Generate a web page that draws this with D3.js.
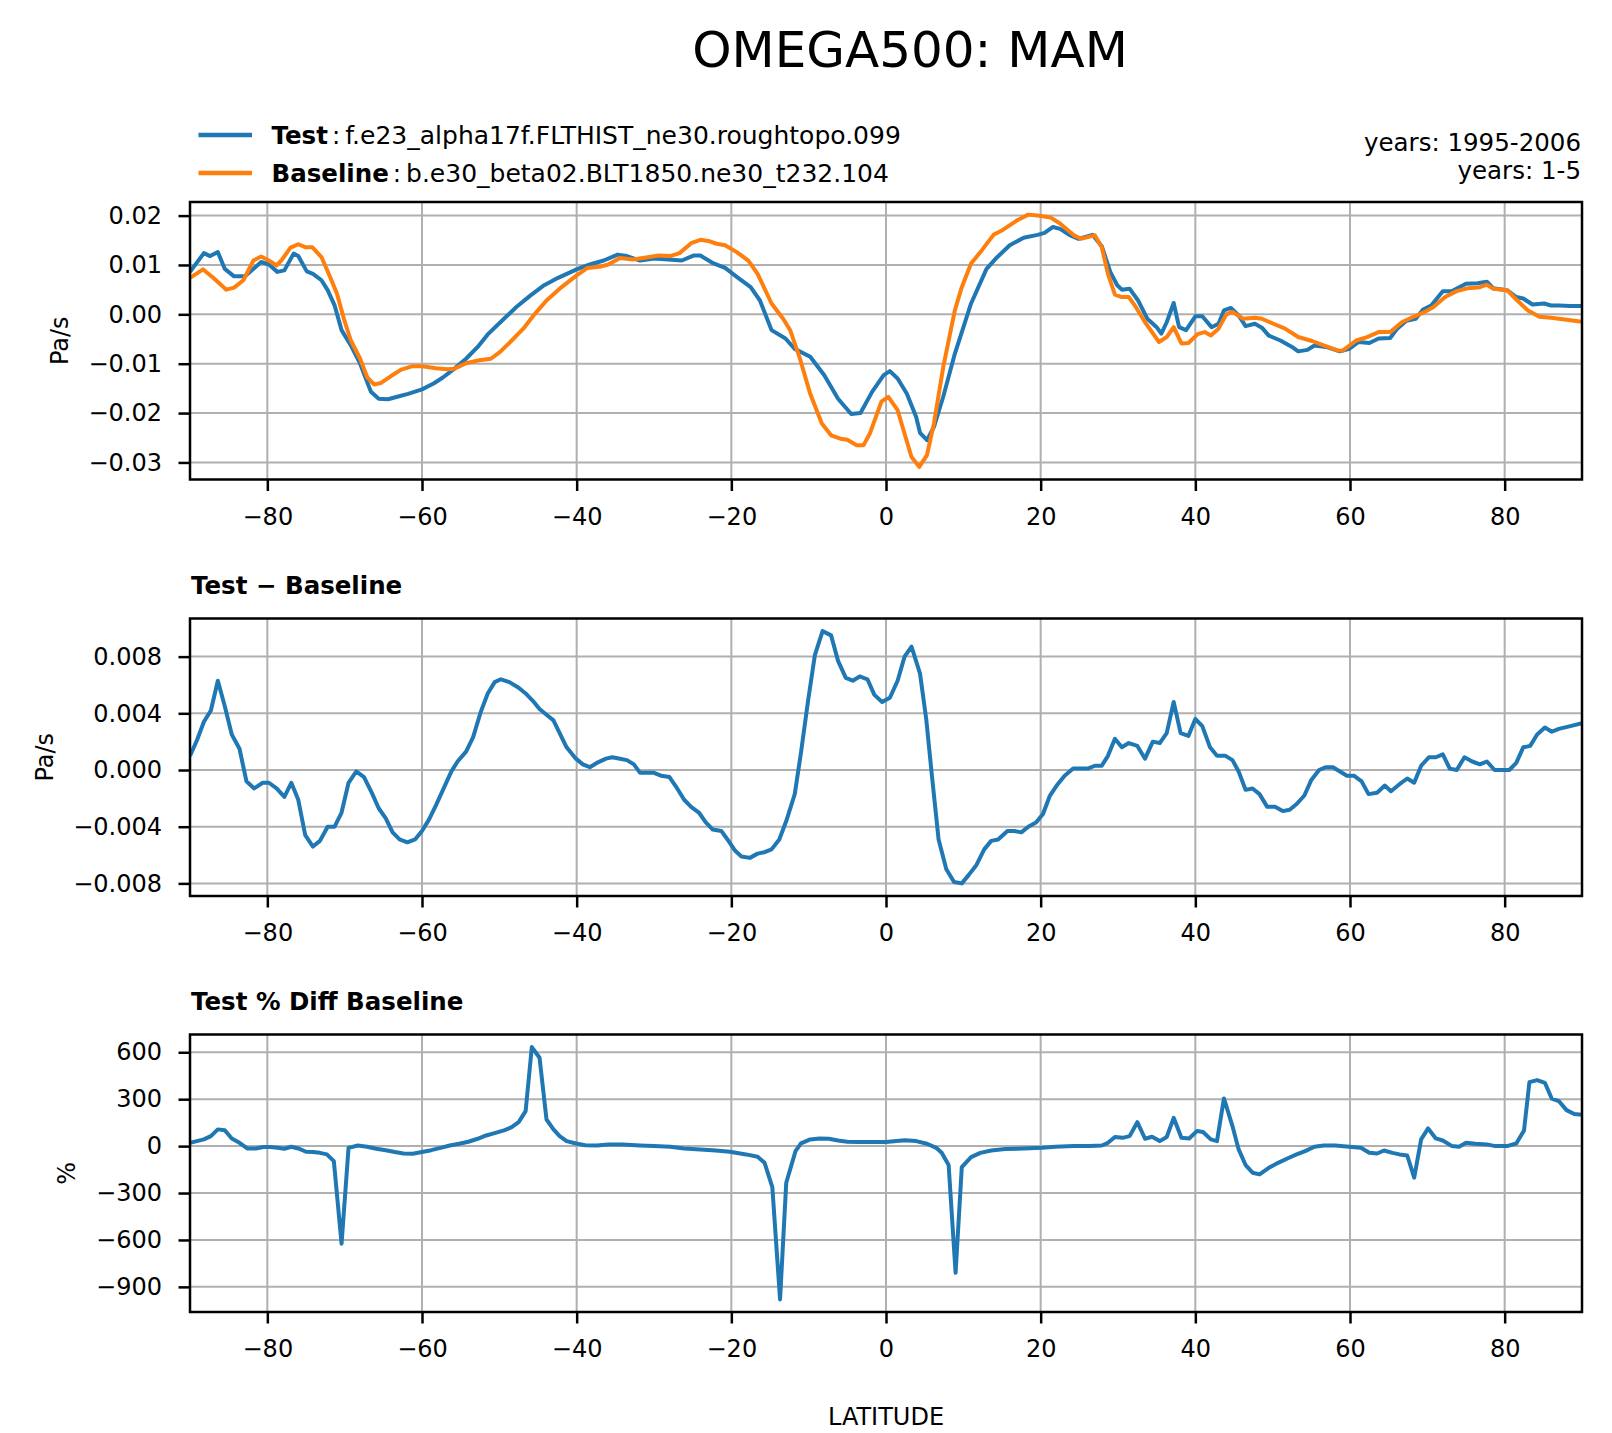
<!DOCTYPE html>
<html>
<head>
<meta charset="utf-8">
<script src="https://cdn.jsdelivr.net/npm/d3@7"></script>
<style>
  body { margin: 0; background: #fff; }
  svg { display: block; font-family: "DejaVu Sans", sans-serif; }
</style>
</head>
<body>
<svg id="chart" width="1612" height="1433"></svg>
<script>
// OMEGA500 zonal mean, MAM: test vs baseline, difference, percent difference

const latTicks = [-80, -60, -40, -20, 0, 20, 40, 60, 80];
const meanTicks = [0.02, 0.01, 0.00, -0.01, -0.02, -0.03];
const diffTicks = [0.008, 0.004, 0.000, -0.004, -0.008];
const pctTicks = [600, 300, 0, -300, -600, -900];

// Test (blue) zonal mean, Pa/s
const testLat = [-90, -88.2, -87.4, -86.4, -85.5, -84.3, -82.9, -80.8, -79.8, -78.7, -77.8, -76.6, -76.0, -74.9, -74.1,
  -73.0, -72.2, -71.3, -70.4, -69.2, -68.0, -66.6, -65.6, -64.4, -63.2, -61.8, -60.0, -58.5, -57.3, -55.8, -54.3,
  -52.8, -51.4, -49.6, -47.8, -46.0, -44.2, -42.4, -40.0, -38.3, -36.5, -34.7, -33.5, -31.8, -30.0, -28.2, -26.4,
  -24.9, -24.0, -22.3, -20.8, -19.3, -17.5, -16.3, -14.8, -13.0, -11.8, -9.8, -8.0, -6.2, -4.5, -3.3, -1.8, -0.3,
  0.5, 1.5, 2.7, 3.9, 4.4, 5.3, 6.2, 7.4, 8.9, 11.0, 13.0, 14.2, 16.0, 17.8, 19.6, 20.5, 21.6, 22.5, 23.7, 24.9,
  26.7, 27.9, 29.0, 29.9, 30.5, 31.5, 32.6, 33.8, 35.0, 35.6, 36.3, 37.2, 37.9, 38.8, 40.0, 40.9, 42.1, 43.0, 43.7,
  44.6, 45.6, 46.5, 47.7, 48.6, 49.5, 51.0, 52.5, 53.3, 54.5, 55.4, 56.9, 58.7, 59.9, 61.1, 62.5, 63.7, 65.2, 66.1,
  67.3, 68.5, 69.4, 70.5, 72.0, 73.2, 75.0, 76.5, 77.7, 78.5, 80.3, 81.5, 82.4, 83.6, 85.1, 86.0, 87.0, 88.5, 90.0];
const testVal = [0.0086, 0.0124, 0.0118, 0.0126, 0.0092, 0.0077, 0.0077, 0.0106, 0.0101, 0.0086, 0.0089, 0.0123, 0.0118, 0.0087, 0.0082,
  0.0069, 0.0049, 0.0018, -0.0032, -0.0063, -0.0100, -0.0157, -0.0171, -0.0172, -0.0167, -0.0161, -0.0152, -0.0140, -0.0128, -0.0110, -0.0090,
  -0.0066, -0.0039, -0.0012, 0.0015, 0.0038, 0.0059, 0.0074, 0.0091, 0.0101, 0.0109, 0.0121, 0.0118, 0.0109, 0.0113, 0.0111, 0.0109,
  0.0119, 0.0119, 0.0103, 0.0094, 0.0076, 0.0055, 0.0028, -0.0032, -0.0049, -0.0070, -0.0086, -0.0123, -0.0171, -0.0202, -0.0200, -0.0157, -0.0123,
  -0.0115, -0.0130, -0.0161, -0.0208, -0.0240, -0.0255, -0.0228, -0.0167, -0.0080, 0.0022, 0.0092, 0.0113, 0.0140, 0.0155, 0.0161, 0.0165, 0.0177, 0.0173, 0.0161, 0.0153,
  0.0161, 0.0138, 0.0086, 0.0059, 0.0050, 0.0052, 0.0028, -0.0009, -0.0026, -0.0039, -0.0016, 0.0023, -0.0026, -0.0032, -0.0004, -0.0004, -0.0026, -0.0019, 0.0008,
  0.0013, -0.0002, -0.0024, -0.0019, -0.0027, -0.0043, -0.0053, -0.0066, -0.0075, -0.0072, -0.0063, -0.0066, -0.0075, -0.0070, -0.0056, -0.0058, -0.0049, -0.0048, -0.0029,
  -0.0013, -0.0009, 0.0009, 0.0018, 0.0047, 0.0047, 0.0062, 0.0063, 0.0066, 0.0053, 0.0049, 0.0035, 0.0032, 0.0020, 0.0022, 0.0018, 0.0018, 0.0017, 0.0017];

// Baseline (orange) zonal mean, Pa/s
const baseLat = [-90, -88.3, -87.0, -85.3, -84.3, -83.1, -81.8, -80.8, -79.8, -78.8, -78.1, -77.0, -76.0, -75.1, -74.2,
  -73.0, -71.9, -71.0, -70.1, -69.2, -68.0, -67.1, -66.2, -65.3, -64.1, -62.7, -61.2, -60.0, -58.2, -56.7, -55.8,
  -54.3, -52.6, -51.1, -49.9, -48.4, -46.9, -45.4, -43.9, -42.2, -40.0, -38.6, -36.8, -35.9, -34.4, -32.7, -30.6,
  -29.4, -27.9, -26.7, -25.2, -24.0, -22.8, -21.9, -20.8, -19.3, -17.8, -16.6, -14.8, -13.3, -12.4, -11.2, -9.8,
  -8.3, -7.1, -5.9, -5.0, -3.8, -2.9, -2.1, -0.6, 0.3, 1.5, 2.4, 3.3, 4.3, 5.3, 6.2, 7.4, 8.9, 9.8, 11.0, 12.4,
  13.9, 15.1, 16.9, 18.4, 19.6, 21.3, 22.5, 24.3, 25.2, 27.0, 27.9, 28.7, 29.6, 30.5, 31.4, 32.3, 33.5, 34.4, 35.3,
  36.3, 37.2, 38.2, 39.1, 40.3, 41.2, 42.0, 43.0, 44.0, 44.8, 46.2, 47.7, 48.6, 50.1, 51.6, 53.3, 55.1, 56.6, 58.4,
  59.0, 60.8, 62.2, 63.7, 65.2, 66.7, 68.2, 69.7, 70.8, 72.3, 73.8, 75.3, 76.8, 77.7, 78.5, 80.3, 81.5, 83.0, 84.5,
  86.0, 87.0, 88.5, 90.0];
const baseVal = [0.0074, 0.0091, 0.0074, 0.0050, 0.0054, 0.0069, 0.0109, 0.0117, 0.0109, 0.0099, 0.0111, 0.0135, 0.0142, 0.0136, 0.0136,
  0.0116, 0.0076, 0.0042, -0.0009, -0.0053, -0.0090, -0.0127, -0.0142, -0.0139, -0.0126, -0.0112, -0.0105, -0.0105, -0.0109, -0.0111, -0.0110,
  -0.0099, -0.0093, -0.0090, -0.0076, -0.0053, -0.0029, 0.0001, 0.0028, 0.0052, 0.0079, 0.0094, 0.0097, 0.0101, 0.0114, 0.0111, 0.0116,
  0.0119, 0.0118, 0.0124, 0.0144, 0.0151, 0.0148, 0.0143, 0.0140, 0.0126, 0.0109, 0.0082, 0.0022, -0.0009, -0.0032, -0.0086, -0.0161,
  -0.0221, -0.0245, -0.0252, -0.0254, -0.0265, -0.0265, -0.0242, -0.0177, -0.0167, -0.0194, -0.0242, -0.0289, -0.0309, -0.0285, -0.0221, -0.0107, 0.0008, 0.0055, 0.0103, 0.0130,
  0.0161, 0.0171, 0.0190, 0.0202, 0.0200, 0.0196, 0.0184, 0.0160, 0.0153, 0.0160, 0.0136, 0.0082, 0.0040, 0.0035, 0.0035, 0.0015, -0.0016, -0.0036, -0.0056,
  -0.0046, -0.0026, -0.0059, -0.0058, -0.0040, -0.0036, -0.0043, -0.0029, 0.0000, 0.0005, -0.0009, -0.0007, -0.0009, -0.0019, -0.0029, -0.0046, -0.0054, -0.0063, -0.0073,
  -0.0074, -0.0053, -0.0046, -0.0036, -0.0036, -0.0016, -0.0005, 0.0005, 0.0015, 0.0035, 0.0047, 0.0053, 0.0055, 0.0060, 0.0052, 0.0049, 0.0030, 0.0008, -0.0005,
  -0.0007, -0.0009, -0.0012, -0.0015];

// Test - Baseline, Pa/s
const diffLat = [-90, -89.1, -88.2, -87.3, -86.4, -85.5, -84.6, -83.6, -82.7, -81.7, -80.6, -79.8, -78.8, -77.8, -76.9, -76.0,
  -75.1, -74.1, -73.2, -72.2, -71.3, -70.4, -69.5, -68.5, -67.5, -66.5, -65.6, -64.7, -63.8, -62.9, -61.9, -60.9,
  -60.0, -59.1, -58.2, -57.2, -56.2, -55.4, -54.3, -53.4, -52.4, -51.5, -50.6, -49.8, -48.7, -47.5, -46.6, -45.7,
  -44.8, -43.9, -43.0, -42.2, -41.3, -40.1, -39.2, -38.3, -37.4, -36.2, -35.4, -34.4, -33.5, -32.6, -31.8, -30.9,
  -30.0, -29.1, -28.0, -27.0, -26.1, -25.2, -24.2, -23.3, -22.4, -21.3, -20.5, -19.5, -18.7, -17.6, -16.6, -15.7,
  -14.8, -13.8, -12.9, -11.8, -11.0, -10.1, -9.2, -8.2, -7.1, -6.2, -5.2, -4.3, -3.4, -2.4, -1.5, -0.5, 0.5, 1.5,
  2.4, 3.3, 4.4, 5.2, 5.9, 6.8, 7.8, 8.8, 9.8, 10.7, 11.7, 12.7, 13.6, 14.5, 15.7, 16.6, 17.5, 18.4, 19.4, 20.3,
  21.2, 22.2, 23.1, 24.2, 25.2, 26.1, 27.0, 27.9, 28.7, 29.6, 30.5, 31.4, 32.5, 33.5, 34.5, 35.4, 36.3, 37.2, 38.1,
  39.1, 40.0, 40.9, 41.9, 42.8, 43.9, 44.8, 45.6, 46.5, 47.4, 48.3, 49.3, 50.3, 51.3, 52.2, 53.1, 54.1, 55.0, 56.0,
  56.9, 57.8, 58.7, 59.6, 60.5, 61.5, 62.4, 63.5, 64.5, 65.3, 66.4, 67.4, 68.3, 69.2, 70.2, 71.1, 72.0, 72.9, 73.8,
  74.8, 75.8, 76.8, 77.7, 78.7, 79.7, 80.6, 81.5, 82.4, 83.3, 84.2, 85.2, 86.1, 87.0, 88.5, 90.0];
const diffVal = [0.0010, 0.0021, 0.0034, 0.0042, 0.0063, 0.0045, 0.0025, 0.0015, -0.0008, -0.0013, -0.0009, -0.0009, -0.0013, -0.0019, -0.0009, -0.0021,
  -0.0046, -0.0054, -0.0050, -0.0040, -0.0040, -0.0030, -0.0009, -0.0001, -0.0005, -0.0016, -0.0027, -0.0034, -0.0044, -0.0049, -0.0051, -0.0049,
  -0.0043, -0.0035, -0.0025, -0.0013, -0.0001, 0.0006, 0.0013, 0.0023, 0.0041, 0.0054, 0.0062, 0.0064, 0.0062, 0.0058, 0.0054, 0.0049,
  0.0043, 0.0039, 0.0035, 0.0026, 0.0016, 0.0008, 0.0004, 0.0002, 0.0005, 0.0008, 0.0009, 0.0008, 0.0007, 0.0004, -0.0002, -0.0002,
  -0.0002, -0.0004, -0.0005, -0.0013, -0.0021, -0.0026, -0.0030, -0.0037, -0.0042, -0.0043, -0.0049, -0.0057, -0.0061, -0.0062, -0.0059, -0.0058,
  -0.0056, -0.0049, -0.0036, -0.0017, 0.0012, 0.0048, 0.0081, 0.0098, 0.0095, 0.0077, 0.0065, 0.0063, 0.0066, 0.0064, 0.0053, 0.0048, 0.0051, 0.0063,
  0.0080, 0.0087, 0.0068, 0.0036, -0.0002, -0.0049, -0.0070, -0.0079, -0.0080, -0.0074, -0.0067, -0.0056, -0.0050, -0.0049, -0.0043, -0.0043, -0.0044, -0.0040, -0.0037, -0.0031,
  -0.0018, -0.0010, -0.0004, 0.0001, 0.0001, 0.0001, 0.0003, 0.0003, 0.0010, 0.0022, 0.0016, 0.0019, 0.0017, 0.0008, 0.0020, 0.0019, 0.0026, 0.0048, 0.0026,
  0.0024, 0.0036, 0.0031, 0.0016, 0.0010, 0.0010, 0.0007, -0.0001, -0.0014, -0.0013, -0.0017, -0.0026, -0.0026, -0.0029, -0.0028, -0.0024, -0.0018, -0.0007, 0.0000,
  0.0002, 0.0002, -0.0001, -0.0004, -0.0004, -0.0008, -0.0017, -0.0016, -0.0011, -0.0015, -0.0010, -0.0006, -0.0009, 0.0003, 0.0009, 0.0009, 0.0011, 0.0001, 0.0000,
  0.0009, 0.0006, 0.0004, 0.0006, 0.0000, 0.0000, 0.0000, 0.0005, 0.0016, 0.0017, 0.0025, 0.0030, 0.0027, 0.0029, 0.0031, 0.0033];

// Test % Diff Baseline, %
const pctLat = [-90, -89.1, -88.2, -87.3, -86.4, -85.5, -84.6, -83.6, -82.6, -81.5, -80.5, -79.6, -78.7, -77.8, -76.9, -76.0,
  -75.0, -74.1, -73.2, -72.3, -71.4, -70.4, -69.5, -68.3, -67.1, -65.9, -64.7, -63.5, -62.4, -61.2, -60.0, -58.8,
  -57.6, -56.4, -55.2, -54.0, -52.8, -51.7, -50.5, -49.3, -48.4, -47.5, -46.6, -45.8, -44.8, -43.9, -43.0, -42.2,
  -41.3, -40.1, -38.9, -37.4, -35.9, -34.1, -31.8, -30.0, -27.9, -26.1, -24.0, -22.0, -20.2, -18.1, -16.6, -15.7,
  -14.7, -13.7, -12.9, -11.7, -11.0, -9.8, -8.6, -7.4, -6.2, -5.0, -3.5, -2.2, 0.0, 2.4, 3.9, 5.3, 6.5, 7.2, 8.1,
  9.0, 9.8, 11.0, 12.2, 13.6, 15.4, 17.8, 20.2, 21.9, 24.3, 26.4, 27.9, 28.7, 29.6, 30.6, 31.5, 32.5, 33.5, 34.4,
  35.4, 36.3, 37.2, 38.2, 39.2, 40.2, 41.0, 42.0, 42.8, 43.7, 44.8, 45.6, 46.5, 47.4, 48.3, 49.5, 50.7, 51.9, 53.1,
  54.2, 55.4, 56.6, 58.1, 59.9, 61.4, 62.5, 63.5, 64.4, 65.5, 66.4, 67.4, 68.3, 69.2, 70.1, 71.1, 72.0, 73.2, 74.1,
  75.0, 76.2, 77.7, 78.8, 80.3, 81.5, 82.5, 83.2, 84.2, 85.2, 86.1, 87.0, 88.0, 89.0, 90.0];
const pctVal = [21, 32, 43, 64, 107, 102, 49, 21, -15, -15, -6, -6, -11, -17, -4, -15,
  -36, -38, -43, -53, -96, -624, -11, 4, -4, -17, -26, -38, -47, -49, -38, -26,
  -11, 4, 15, 28, 47, 68, 85, 102, 121, 153, 224, 633, 565, 170, 107, 64,
  32, 17, 6, 4, 11, 11, 4, 0, -4, -15, -21, -28, -36, -53, -68, -107,
  -262, -980, -234, -32, 17, 43, 49, 47, 36, 28, 26, 26, 26, 38, 32, 15, -11, -43, -121,
  -810, -134, -70, -43, -28, -19, -15, -11, -4, 0, 0, 4, 21, 58, 53, 64, 153, 47, 60,
  32, 58, 181, 53, 49, 96, 90, 43, 32, 305, 128, -21, -121, -170, -181, -139, -107, -79, -53,
  -32, -4, 4, 4, -4, -11, -43, -47, -28, -43, -53, -60, -202, 43, 113, 49, 36, 0, -4,
  21, 15, 11, 0, 0, 17, 100, 409, 422, 405, 303, 288, 230, 205, 200];

const COLORS = { test: '#1f77b4', base: '#ff7f0e', grid: '#b0b0b0' };

const panels = [
  { top: 202, title: null, ylabel: 'Pa/s', ticks: meanTicks, fmt: d3.format('.2f'),
    series: [{ lat: testLat, val: testVal, color: COLORS.test }, { lat: baseLat, val: baseVal, color: COLORS.base }] },
  { top: 618.5, title: 'Test \u2212 Baseline', ylabel: 'Pa/s', ticks: diffTicks, fmt: d3.format('.3f'),
    series: [{ lat: diffLat, val: diffVal, color: COLORS.test }] },
  { top: 1034.5, title: 'Test % Diff Baseline', ylabel: '%', ticks: pctTicks, fmt: d3.format('d'),
    series: [{ lat: pctLat, val: pctVal, color: COLORS.test }] }
];

const left = 190, right = 1582, panelH = 277.5;
const tickLen = 11.5, tickPad = 16.5;

const svg = d3.select('#chart');

const x = d3.scaleLinear().domain([-90, 90]).range([left, right]);

panels.forEach((p, i) => {
  // matplotlib-style 5% margins around the data extent
  const allVals = p.series.flatMap(s => s.val);
  const [lo, hi] = d3.extent(allVals);
  const pad = (hi - lo) * 0.05;
  const y = d3.scaleLinear().domain([lo - pad, hi + pad]).range([p.top + panelH, p.top]);

  const g = svg.append('g');

  g.append('clipPath').attr('id', `clip${i}`)
    .append('rect').attr('x', left).attr('y', p.top).attr('width', right - left).attr('height', panelH);

  // grid
  g.append('g').selectAll('line').data(latTicks).join('line')
    .attr('x1', d => x(d)).attr('x2', d => x(d))
    .attr('y1', p.top).attr('y2', p.top + panelH)
    .attr('stroke', COLORS.grid).attr('stroke-width', 2);
  g.append('g').selectAll('line').data(p.ticks).join('line')
    .attr('x1', left).attr('x2', right)
    .attr('y1', d => y(d)).attr('y2', d => y(d))
    .attr('stroke', COLORS.grid).attr('stroke-width', 2);

  // lines
  const line = d3.line().x(d => x(d[0])).y(d => y(d[1]));
  p.series.forEach(s => {
    g.append('path')
      .datum(d3.zip(s.lat, s.val))
      .attr('clip-path', `url(#clip${i})`)
      .attr('fill', 'none')
      .attr('stroke', s.color)
      .attr('stroke-width', 4)
      .attr('stroke-linejoin', 'round')
      .attr('d', line);
  });

  // axes
  const xAxis = g.append('g')
    .attr('transform', `translate(0,${p.top + panelH})`)
    .call(d3.axisBottom(x).tickValues(latTicks).tickFormat(d3.format('d')).tickSize(tickLen).tickPadding(tickPad));
  const yAxis = g.append('g')
    .attr('transform', `translate(${left},0)`)
    .call(d3.axisLeft(y).tickValues(p.ticks).tickFormat(p.fmt).tickSize(tickLen).tickPadding(tickPad));
  [xAxis, yAxis].forEach(a => {
    a.select('.domain').remove();
    a.selectAll('.tick line').attr('stroke', '#000').attr('stroke-width', 2.5);
    a.selectAll('.tick text').attr('font-size', 24).attr('fill', '#000').attr('font-family', 'DejaVu Sans');
  });

  // frame
  g.append('rect')
    .attr('x', left).attr('y', p.top).attr('width', right - left).attr('height', panelH)
    .attr('fill', 'none').attr('stroke', '#000').attr('stroke-width', 2.5);

  // y label placed left of the widest tick label
  let minLeft = left;
  yAxis.selectAll('.tick text').each(function () {
    const b = this.getBBox();
    const tx = left + b.x;
    if (tx < minLeft) minLeft = tx;
  });
  g.append('text')
    .attr('transform', `translate(${minLeft - 29},${p.top + panelH / 2}) rotate(-90)`)
    .attr('text-anchor', 'middle')
    .attr('dy', '0.35em')
    .attr('font-size', 24)
    .text(p.ylabel);

  if (p.title) {
    g.append('text')
      .attr('x', left + 1).attr('y', p.top - 25)
      .attr('font-size', 24.5).attr('font-weight', 'bold')
      .text(p.title);
  }
});

// figure title
svg.append('text')
  .attr('x', 910).attr('y', 67)
  .attr('text-anchor', 'middle')
  .attr('font-size', 50)
  .text('OMEGA500: MAM');

// legend
const legendItems = [
  { name: 'Test', desc: 'f.e23_alpha17f.FLTHIST_ne30.roughtopo.099', color: COLORS.test },
  { name: 'Baseline', desc: 'b.e30_beta02.BLT1850.ne30_t232.104', color: COLORS.base }
];
const legend = svg.append('g');
legendItems.forEach((d, i) => {
  const ly = 135 + i * 38;
  legend.append('line')
    .attr('x1', 198.5).attr('x2', 252).attr('y1', ly).attr('y2', ly)
    .attr('stroke', d.color).attr('stroke-width', 4.5);
  const t = legend.append('text')
    .attr('x', 271.5).attr('y', ly + 8.5)
    .attr('font-size', 24.5);
  t.append('tspan').attr('font-weight', 'bold').text(d.name);
  t.append('tspan').attr('dx', 4).text(':');
  t.append('tspan').attr('dx', 5).attr('font-size', 25).text(d.desc);
});

// years
['years: 1995-2006', 'years: 1-5'].forEach((s, i) => {
  svg.append('text')
    .attr('x', 1581).attr('y', 151 + i * 28)
    .attr('text-anchor', 'end')
    .attr('font-size', 24.5)
    .text(s);
});

// x label
svg.append('text')
  .attr('x', (left + right) / 2).attr('y', 1425)
  .attr('text-anchor', 'middle')
  .attr('font-size', 24)
  .text('LATITUDE');
</script>
</body>
</html>
